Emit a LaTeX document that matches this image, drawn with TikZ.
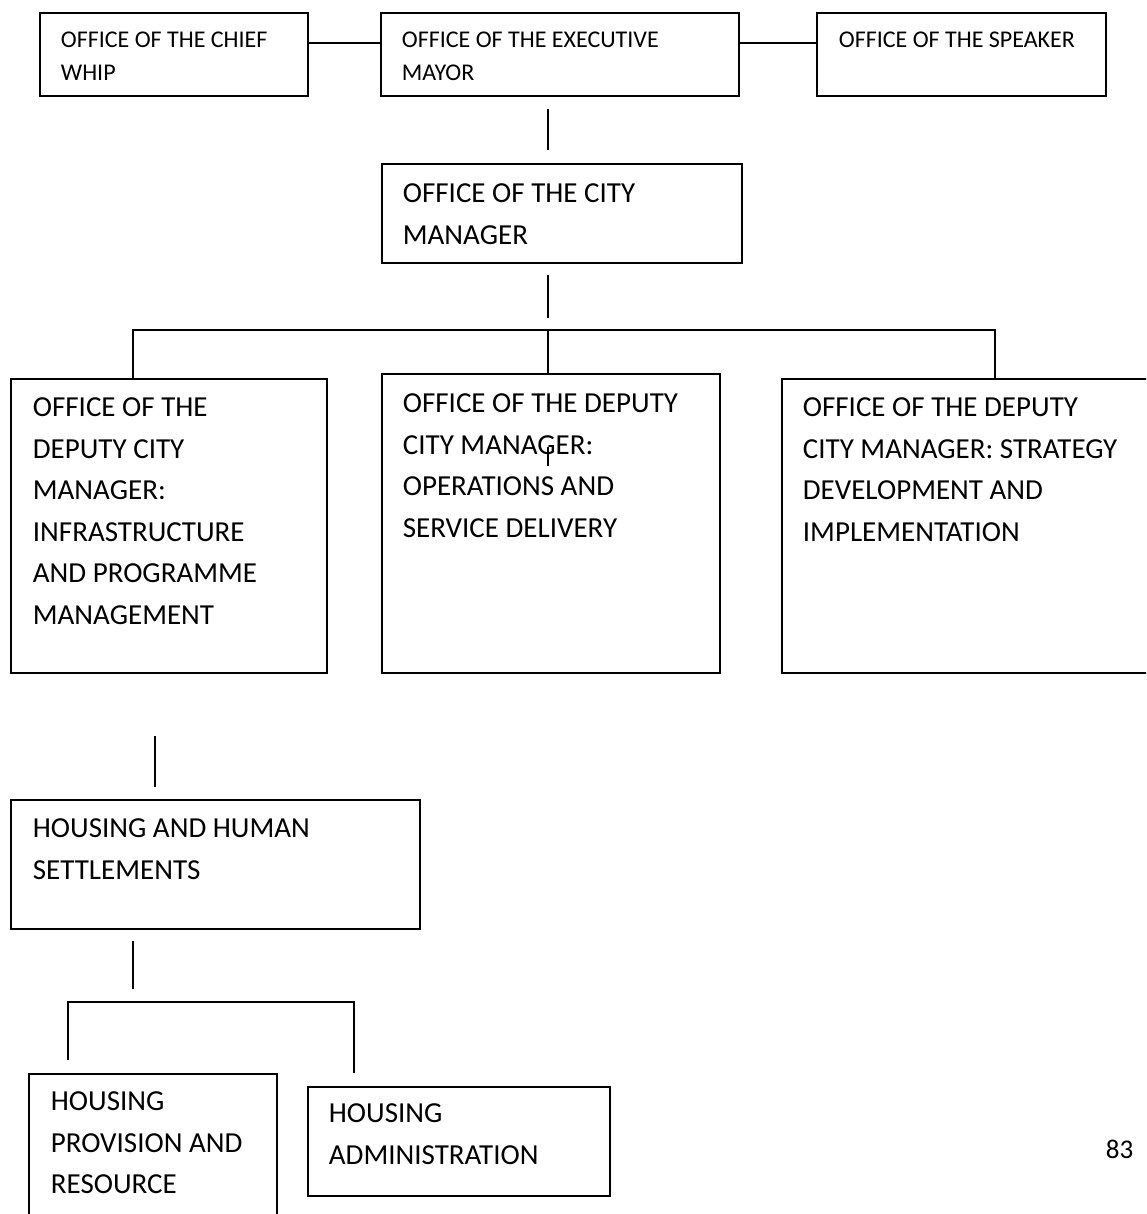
\documentclass[tikz,border=0pt]{standalone}
\usepackage{fontspec}
\setmainfont{Carlito}
\usepackage{tikz}

\begin{document}
\begin{tikzpicture}[x=0.5pt, y=-0.5pt, line width=0.9pt,
        office/.style = {draw, anchor=north west, align=left, inner ysep=0pt, inner xsep=10.5pt,
            font=\fontsize{14.5pt}{20.75pt}\selectfont, text height=19.5pt,
            execute at begin node={\spaceskip=0pt\xspaceskip=0pt}},
        toprow/.style = {office, font=\fontsize{12pt}{16.5pt}\selectfont, text height=17.5pt, text depth=24pt}]
        \useasboundingbox (0,0) rectangle (1146,1214);
        \clip (0,0) rectangle (1146,1214);
        \coordinate (spine) at (548,0);
        \coordinate (bar) at (548,330);
        \coordinate (subbar) at (200,1002);
        % councillors
        \node[toprow, text width=113pt] (whip) at (39,12) {OFFICE OF THE CHIEF\\WHIP};
        \node[toprow, text width=158pt] (mayor) at (380,12) {OFFICE OF THE EXECUTIVE\\MAYOR};
        \node[toprow, inner xsep=11pt, text width=122.5pt] (speaker) at (816,12) {OFFICE OF THE SPEAKER};
        % administration
        \node[office, text width=159pt, text depth=30pt] (city) at (381,163) {OFFICE OF THE CITY\\MANAGER};
        \node[office, inner xsep=11pt, text width=136pt, text height=19pt, text depth=128pt] (infra) at (10,378)
            {OFFICE OF THE\\DEPUTY CITY\\MANAGER:\\INFRASTRUCTURE\\AND PROGRAMME\\MANAGEMENT};
        \node[office, text width=148pt, text depth=130pt] (ops) at (381,373)
            {OFFICE OF THE DEPUTY\\CITY MANAGER:\\OPERATIONS AND\\SERVICE DELIVERY};
        \node[office, text width=169pt, text height=19pt, text depth=128pt] (strategy) at (781,378)
            {OFFICE OF THE DEPUTY\\CITY MANAGER: STRATEGY\\DEVELOPMENT AND\\IMPLEMENTATION};
        \node[office, inner xsep=11pt, text width=182.5pt, text height=19pt, text depth=45.5pt] (housing) at (10,799)
            {HOUSING AND HUMAN\\SETTLEMENTS};
        \node[office, inner xsep=11pt, text width=102pt, text height=18.5pt, text depth=60pt] (provision) at (28,1073)
            {HOUSING\\PROVISION AND\\RESOURCE};
        \node[office, text width=130pt, text height=18pt, text depth=36.5pt] (admin) at (307,1086)
            {HOUSING\\ADMINISTRATION};
        \node[anchor=base west, inner sep=0pt, font=\fontsize{13.5pt}{16pt}\selectfont] (page) at (1105,1158) {83};
        % links
        \draw ([yshift=-15.5pt]whip.north east) -- ([yshift=-15.5pt]mayor.north west);
        \draw ([yshift=-15.5pt]mayor.north east) -- ([yshift=-15.5pt]speaker.north west);
        \draw ([yshift=-6pt]mayor.south -| spine) -- ([yshift=6.5pt]city.north -| spine);
        \draw ([yshift=-5.5pt]city.south -| spine) -- ([yshift=6pt]bar);
        \draw ([xshift=61.5pt]infra.north west) |- (bar) -| ([xshift=107pt]strategy.north west);
        \draw (bar) -- (ops.north -| bar);
        \draw[line width=0.6pt] ([yshift=-37pt]ops.north -| spine) -- ++(0,19);
        \draw ([xshift=72.5pt,yshift=-31pt]infra.south west) -- ([xshift=72.5pt,yshift=6pt]housing.north west);
        \draw ([xshift=61.5pt,yshift=-5.5pt]housing.south west) -- ([xshift=61.5pt,yshift=6.5pt]housing.south west |- subbar);
        \draw ([xshift=20pt,yshift=6.5pt]provision.north west) |- (subbar) -| ([xshift=23.5pt,yshift=6.5pt]admin.north west);
    \end{tikzpicture}
\end{document}
